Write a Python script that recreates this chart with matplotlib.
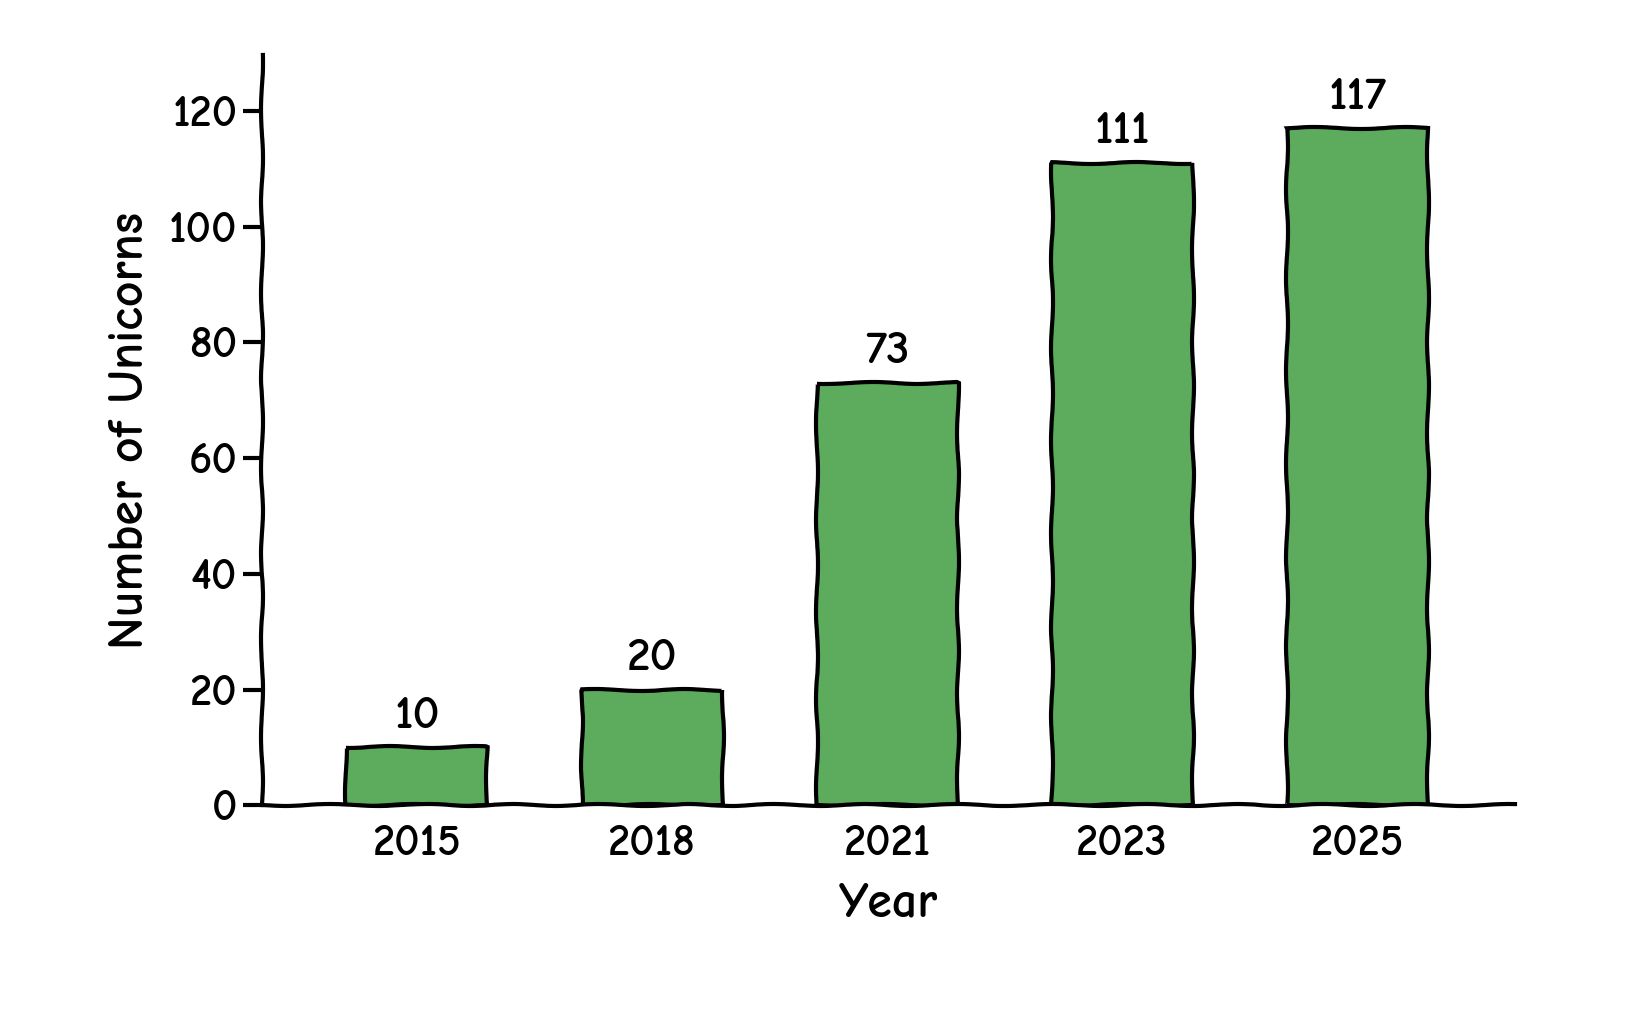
import matplotlib
matplotlib.use("Agg")
import matplotlib.pyplot as plt

years = ["2015", "2018", "2021", "2023", "2025"]
unicorns = [10, 20, 73, 111, 117]

plt.xkcd(scale=1, length=100, randomness=2)
plt.rcParams['font.family'] = ['Comic Neue', 'Lato', 'DejaVu Sans']
plt.rcParams['font.weight'] = 'bold'
plt.rcParams['axes.labelweight'] = 'bold'
plt.rcParams['path.effects'] = []

fig = plt.figure(figsize=(16.36, 10.22), dpi=100)
ax = fig.add_axes([0.16, 0.212, 0.766, 0.734])

x = range(len(years))
ax.bar(x, unicorns, width=0.6, color="#5dac5d", edgecolor="black", linewidth=3)
for xi, v in zip(x, unicorns):
    ax.text(xi, v + 2, str(v), ha="center", va="bottom", fontsize=34)

ax.set_xticks(list(x))
ax.set_xticklabels(years, fontsize=32)
ax.set_yticks(range(0, 121, 20))
ax.tick_params(axis="y", labelsize=32, width=3, length=14)
ax.tick_params(axis="x", length=0, pad=14)
ax.set_xlim(-0.66, 4.67)
ax.set_ylim(0, 129.6)
ax.set_xlabel("Year", fontsize=36, labelpad=14)
ax.set_ylabel("Number of Unicorns", fontsize=36, labelpad=12)
ax.spines["top"].set_visible(False)
ax.spines["right"].set_visible(False)
ax.spines["left"].set_linewidth(3)
ax.spines["bottom"].set_linewidth(3)

fig.savefig("out.png", dpi=100)
